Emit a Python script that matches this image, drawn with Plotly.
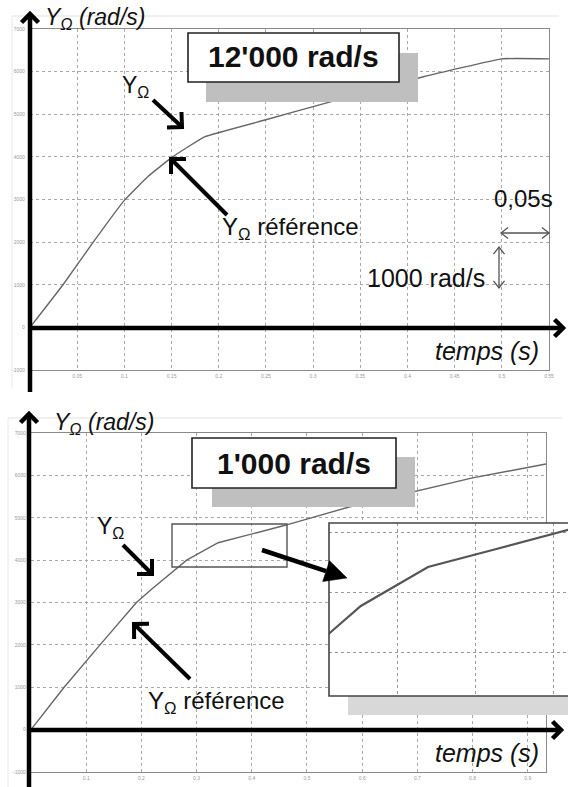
import math
import plotly.graph_objects as go

W, H = 568, 787

# ---------------- data ----------------
t_top = [0, 0.035, 0.067, 0.1, 0.125, 0.151, 0.185, 0.25, 0.3, 0.35, 0.417, 0.5, 0.55]
v_top = [0, 1000, 2000, 2980, 3540, 4000, 4470, 4870, 5180, 5480, 5880, 6300, 6300]

t_bot = [0, 0.06, 0.125, 0.191, 0.22, 0.282, 0.339, 0.397, 0.457, 0.578, 0.70, 0.80, 0.933]
v_bot = [0, 1000, 2000, 3000, 3330, 4000, 4410, 4600, 4810, 5260, 5640, 5940, 6270]

y_tickvals = [-1000, 0, 1000, 2000, 3000, 4000, 5000, 6000, 7000]
y_ticktext = ["-1000", "0", "1000", "2000", "3000", "4000", "5000", "6000", "7000"]
x_top_tickvals = [0.05, 0.1, 0.15, 0.2, 0.25, 0.3, 0.35, 0.4, 0.45, 0.5, 0.55]
x_top_ticktext = ["0.05", "0.1", "0.15", "0.2", "0.25", "0.3", "0.35", "0.4", "0.45", "0.5", "0.55"]
x_bot_tickvals = [0.1, 0.2, 0.3, 0.4, 0.5, 0.6, 0.7, 0.8, 0.9]
x_bot_ticktext = ["0.1", "0.2", "0.3", "0.4", "0.5", "0.6", "0.7", "0.8", "0.9"]

title_top = "12'000 rad/s"
title_bot = "1'000 rad/s"


def px(x):
    return x / W


def py(y):
    return 1 - y / H


FONT = "Liberation Sans, Arial, sans-serif"
CURVE = "#666666"
GRID = "#a8a8a8"
FRAME = "#8a8a8a"

fig = go.Figure()
fig.add_trace(go.Scatter(x=t_top, y=v_top, mode="lines",
                         line=dict(color=CURVE, width=1.4, shape="spline", smoothing=0.3),
                         xaxis="x", yaxis="y", showlegend=False, hoverinfo="skip"))
fig.add_trace(go.Scatter(x=t_bot, y=v_bot, mode="lines", line=dict(color=CURVE, width=1.4),
                         xaxis="x2", yaxis="y2", showlegend=False, hoverinfo="skip"))
fig.add_trace(go.Scatter(x=t_bot, y=v_bot, mode="lines", line=dict(color="#555555", width=2.2),
                         xaxis="x3", yaxis="y3", showlegend=False, hoverinfo="skip"))

tickfont = dict(family=FONT, size=5, color="#999999")
common = dict(showgrid=True, gridcolor=GRID, griddash="dot", gridwidth=1,
              showline=True, mirror=True, linecolor=FRAME, linewidth=1.2,
              zeroline=False, ticks="", tickfont=tickfont, fixedrange=True)

fig.update_layout(
    width=W, height=H,
    margin=dict(l=0, r=0, t=0, b=0),
    paper_bgcolor="white", plot_bgcolor="white",
    template="none",
    showlegend=False,
    xaxis=dict(domain=[px(30), px(549)], range=[0, 0.55], anchor="y",
               tickvals=x_top_tickvals, ticktext=x_top_ticktext, ticklabelstandoff=1, **common),
    yaxis=dict(domain=[py(370), py(29)], range=[-1000, 7000], anchor="x",
               tickvals=y_tickvals, ticktext=y_ticktext, ticklabelstandoff=3, **common),
    xaxis2=dict(domain=[px(31), px(546)], range=[0, 0.933], anchor="y2",
                tickvals=x_bot_tickvals, ticktext=x_bot_ticktext, ticklabelstandoff=1, **common),
    yaxis2=dict(domain=[py(772), py(433)], range=[-1000, 7000], anchor="x2",
                tickvals=y_tickvals, ticktext=y_ticktext, ticklabelstandoff=3, **common),
    xaxis3=dict(domain=[px(329), 1.0], range=[0.255, 0.4578], anchor="y3",
                showgrid=True, gridcolor="#999999", griddash="dot", gridwidth=1.3,
                tick0=0.3135, dtick=0.0658, showticklabels=False, showline=False,
                zeroline=False, ticks="", fixedrange=True),
    yaxis3=dict(domain=[py(696), py(523)], range=[3051, 4874], anchor="x3",
                showgrid=True, gridcolor="#999999", griddash="dot", gridwidth=1.3,
                tick0=3514, dtick=632, showticklabels=False, showline=False,
                zeroline=False, ticks="", fixedrange=True),
)

shapes = []


def rect(x0, y0, x1, y1, fill=None, line=None, lw=1.5):
    shapes.append(dict(type="rect", xref="paper", yref="paper", layer="above",
                       x0=px(x0), x1=px(x1), y0=py(y1), y1=py(y0),
                       fillcolor=fill if fill else "rgba(0,0,0,0)",
                       line=dict(color=line if line else "rgba(0,0,0,0)", width=lw if line else 0)))


def seg(x0, y0, x1, y1, color, w=1):
    shapes.append(dict(type="line", xref="paper", yref="paper", layer="above",
                       x0=px(x0), x1=px(x1), y0=py(y0), y1=py(y1), line=dict(color=color, width=w)))


def pth(points, color, w, closed=False, fill=None):
    d = "M" + " L".join(f"{px(x):.5f},{py(y):.5f}" for x, y in points)
    if closed:
        d += " Z"
    shapes.append(dict(type="path", xref="paper", yref="paper", layer="above", path=d,
                       fillcolor=fill if fill else "rgba(0,0,0,0)",
                       line=dict(color=color, width=w)))


def head(tail, tip, arm, ang, color, w):
    dx, dy = tip[0] - tail[0], tip[1] - tail[1]
    n = math.hypot(dx, dy)
    ux, uy = dx / n, dy / n
    a = math.radians(ang)
    pts = []
    for s in (1, -1):
        c, sn = math.cos(s * a), math.sin(s * a)
        rx, ry = ux * c - uy * sn, ux * sn + uy * c
        pts.append((tip[0] - arm * rx, tip[1] - arm * ry))
    pth([pts[0], tip, pts[1]], color, w)


def arrow(tail, tip, width=4, arm=15, ang=45, color="black", both=False):
    seg(tail[0], tail[1], tip[0], tip[1], color, width)
    head(tail, tip, arm, ang, color, width)
    if both:
        head(tip, tail, arm, ang, color, width)


def fat_arrow(tail, tip, width, length, half, color="black"):
    dx, dy = tip[0] - tail[0], tip[1] - tail[1]
    n = math.hypot(dx, dy)
    ux, uy = dx / n, dy / n
    bx, by = tip[0] - length * ux, tip[1] - length * uy
    seg(tail[0], tail[1], bx, by, color, width)
    pth([tip, (bx - half * uy, by + half * ux), (bx + half * uy, by - half * ux)],
        color, 0.5, closed=True, fill=color)


# screenshot frames (faint)
seg(12, 16, 559, 16, "#e2e2e2", 1.2)
seg(12, 16, 12, 388, "#e8e8e8", 1)
seg(8, 418, 562, 418, "#e2e2e2", 1.2)
seg(8, 418, 8, 787, "#e8e8e8", 1)

# top title box
rect(206, 53, 418, 102, fill="#bfbfbf")
rect(188, 33, 399, 82, fill="white", line="#222222", lw=1.6)
# bottom title box
rect(212, 457, 415, 507, fill="#bfbfbf")
rect(192, 438, 396, 488, fill="white", line="#222222", lw=1.6)
# small zoom rectangle
rect(172, 524, 287, 567, line="#555555", lw=1.4)
# inset shadow and frame
rect(348, 696, 600, 715, fill="#d8d8d8")
rect(329, 523, 600, 696, line="#444444", lw=1.6)

# ---- top panel arrows ----
arrow((30, 392), (30, 14), width=4.5, arm=12, ang=45)
arrow((30, 328), (563, 328), width=4.5, arm=12, ang=45)
arrow((153, 100), (182, 127), width=4, arm=15, ang=45)
arrow((227, 215), (171, 159), width=4, arm=15, ang=45)
arrow((501, 233), (549, 233), width=1.3, arm=9, ang=38, color="#555555", both=True)
arrow((499, 247), (499, 288), width=1.3, arm=9, ang=38, color="#555555", both=True)

# ---- bottom panel arrows ----
arrow((29, 787), (29, 414), width=4.5, arm=12, ang=45)
arrow((29, 730), (561, 730), width=4.5, arm=12, ang=45)
arrow((123, 545), (152, 574), width=4, arm=15, ang=45)
arrow((190, 679), (134, 624), width=4, arm=15, ang=45)
fat_arrow((262, 550), (347, 578), width=4.5, length=22, half=11)

fig.update_layout(shapes=shapes)

annotations = []


def text(x, y, s, size, xanchor="left", bold=False, italic=False):
    if bold:
        s = "<b>" + s + "</b>"
    if italic:
        s = "<i>" + s + "</i>"
    annotations.append(dict(xref="paper", yref="paper", x=px(x), y=py(y), text=s,
                            showarrow=False, xanchor=xanchor, yanchor="middle",
                            font=dict(family=FONT, size=size, color="#111111")))


Y = "Y<sub>Ω</sub>"

# ---- top panel texts ----
text(43, 18, Y + " (rad/s)", 23, italic=True)
text(293, 57, title_top, 30, xanchor="center", bold=True)
text(120, 86, Y, 23)
text(220, 229, Y + " référence", 24)
text(492, 199, "0,05s", 24)
text(365, 278, "1000 rad/s", 25)
text(433, 351, "temps (s)", 25, italic=True)

# ---- bottom panel texts ----
text(52, 423, Y + " (rad/s)", 23, italic=True)
text(294, 463, title_bot, 30, xanchor="center", bold=True)
text(95, 527, Y, 23)
text(146, 702, Y + " référence", 24)
text(433, 753, "temps (s)", 25, italic=True)

fig.update_layout(annotations=annotations)

fig.write_html("out.html", config={"displayModeBar": False},
               post_script="document.body.style.margin='0';document.body.style.padding='0';")
